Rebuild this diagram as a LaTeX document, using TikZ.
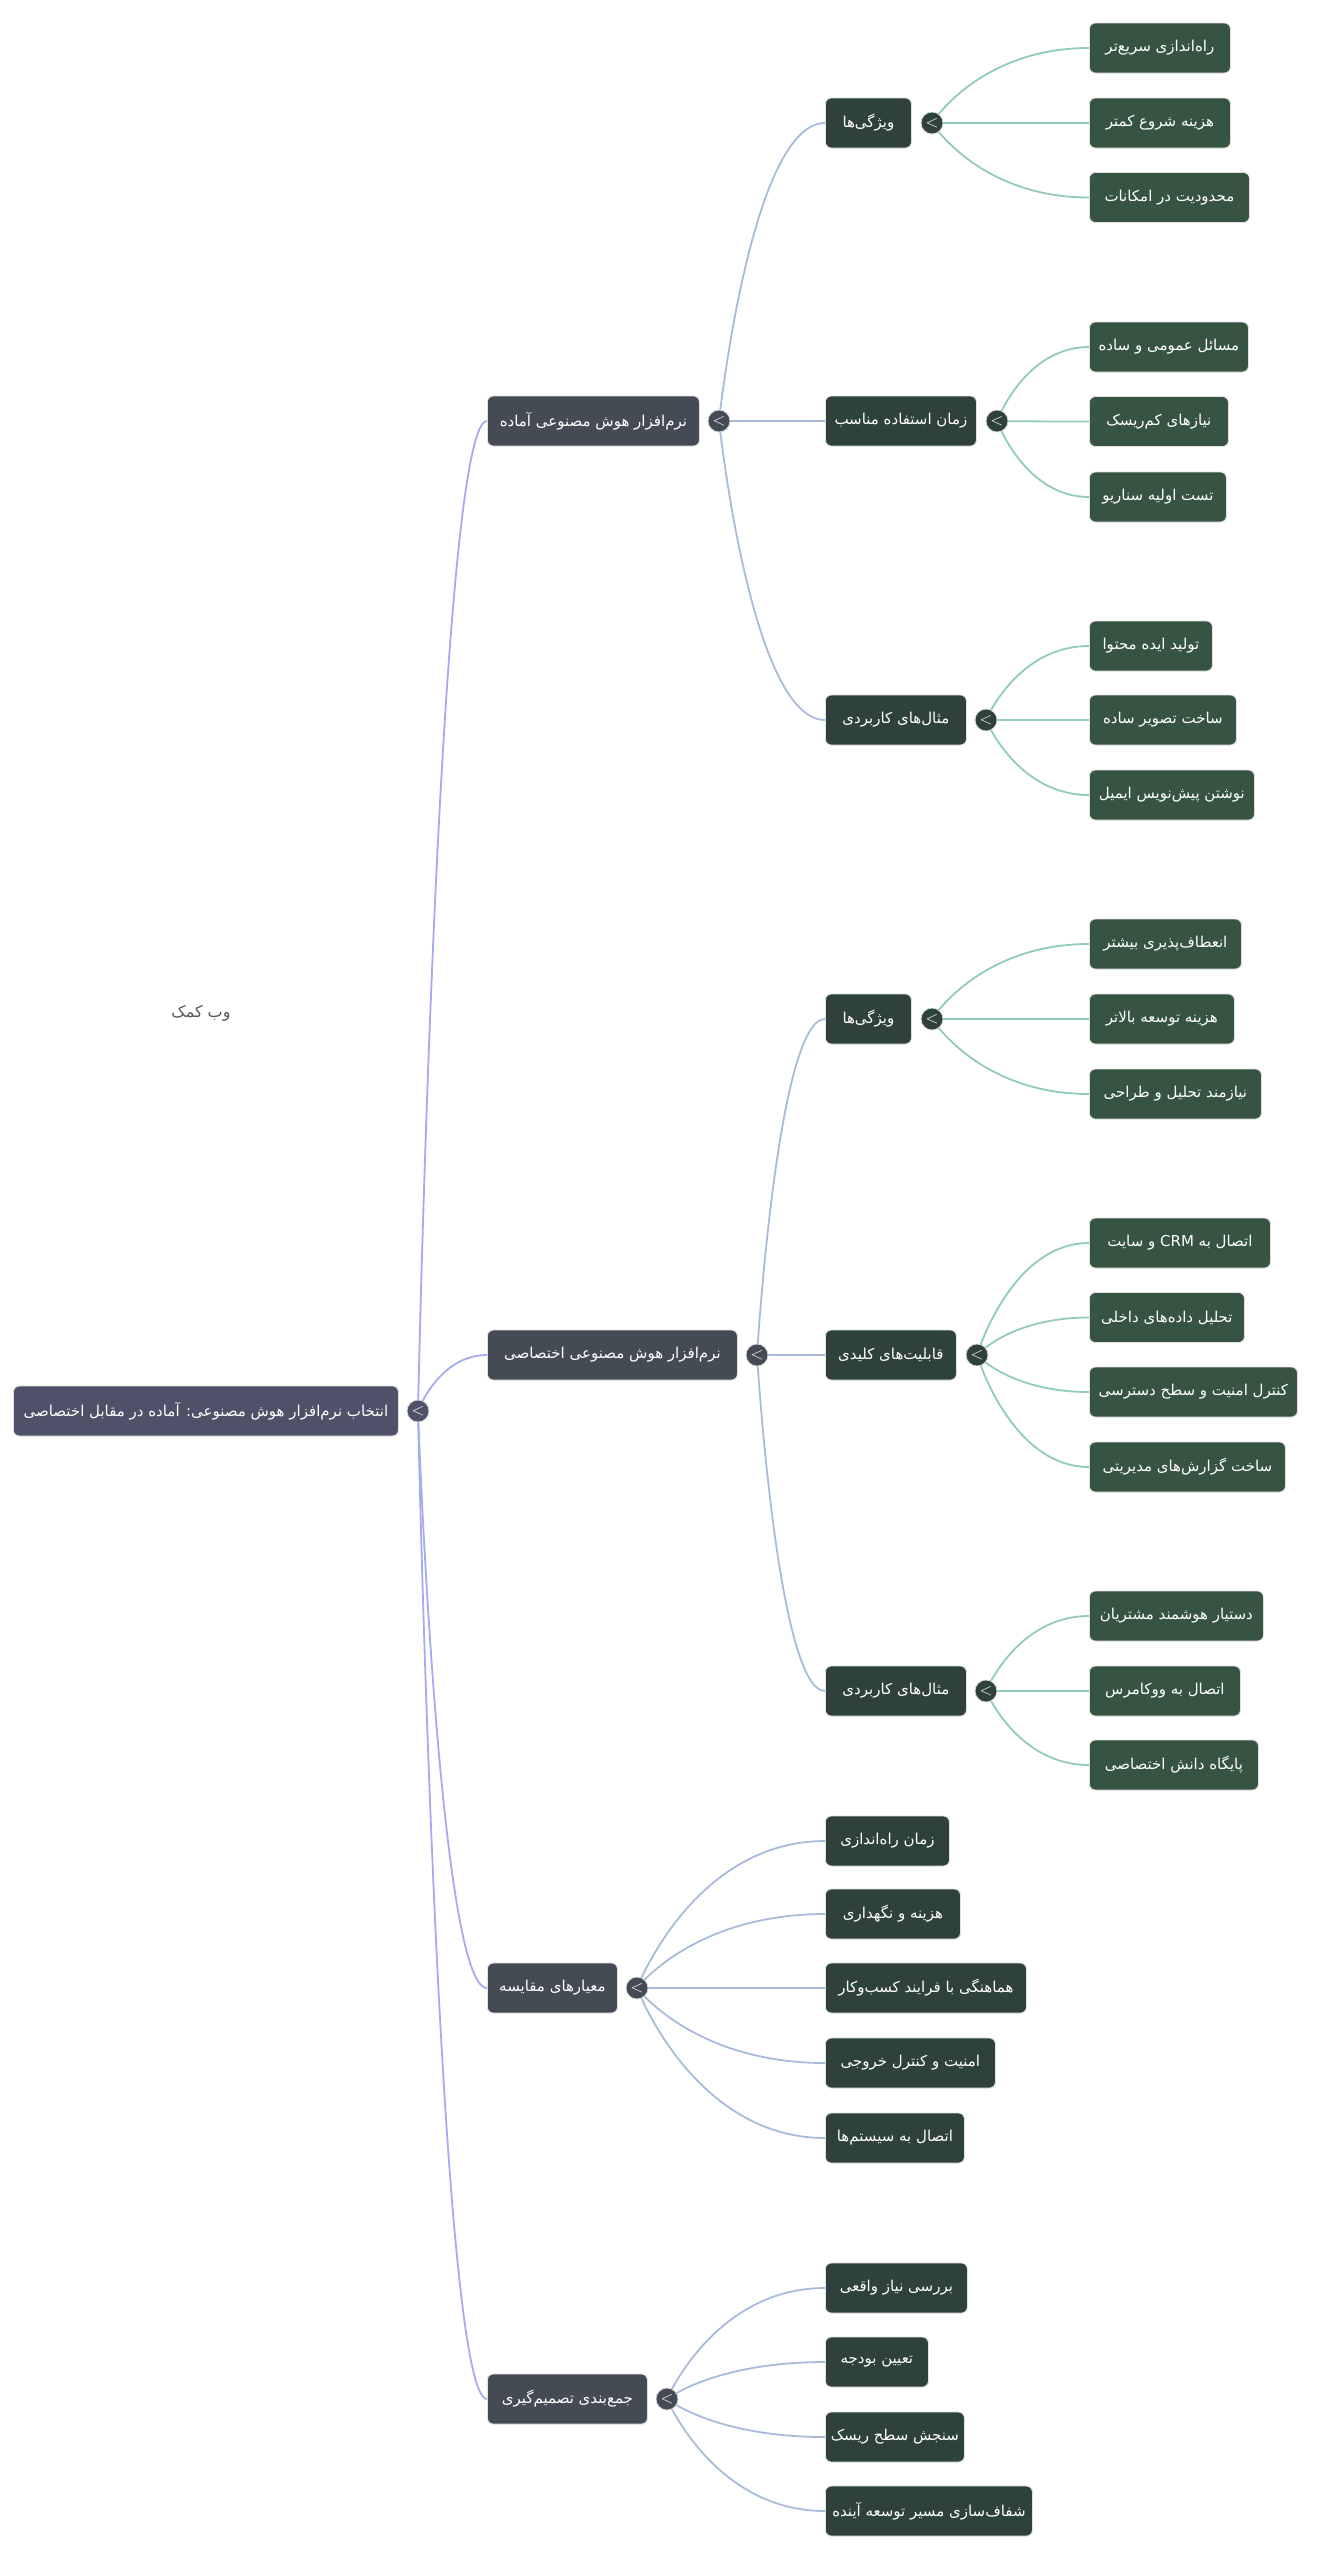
\documentclass[tikz,border=0pt]{standalone}
\usepackage{fontspec}
\usetikzlibrary{calc,backgrounds}
\TeXXeTstate=1
\newfontfamily\persianfont[Script=Arabic]{DejaVu Sans}
\newcommand\fatxt[1]{{\persianfont\beginR #1\endR}}
\definecolor{rootc}{HTML}{4F5168}
\definecolor{onec}{HTML}{444B55}
\definecolor{twoc}{HTML}{2F413C}
\definecolor{threec}{HTML}{365441}
\definecolor{rootln}{HTML}{A5AAF2}
\definecolor{oneln}{HTML}{A8BCDA}
\definecolor{twoln}{HTML}{92CCB8}
\begin{document}
\begin{tikzpicture}[x=1pt,y=-1pt,
  box/.style={rectangle, rounded corners=6pt, minimum height=50pt, text=white,
    font=\fontsize{15}{18}\selectfont, inner sep=0pt, anchor=west, draw=black!12, line width=0.8pt},
  rootbox/.style={box, fill=rootc},
  onebox/.style={box, fill=onec},
  twobox/.style={box, fill=twoc},
  threebox/.style={box, fill=threec},
  knob/.style={circle, minimum size=22pt, inner sep=0pt, draw=white!85!black, line width=0.8pt, text=white,
    font=\fontsize{17}{17}\selectfont\sffamily},
  lnk/.style={line width=1.8pt, to path={let \p1=(\tikztostart), \p2=(\tikztotarget) in
    .. controls (\p1) and ({\x1+0.3*(\x2-\x1)},\y2) .. (\p2)}},
]
\useasboundingbox (0,0) rectangle (1341,2560);

% root
\node[rootbox, minimum width=385pt] (root) at (13,1411) {\fatxt{انتخاب نرم‌افزار هوش مصنوعی: آماده در مقابل اختصاصی}};
\node[knob, fill=rootc] (k0) at (418,1411) {<};

% level 1
\node[onebox, minimum width=212pt] (n1) at (487,421) {\fatxt{نرم‌افزار هوش مصنوعی آماده}};
\node[onebox, minimum width=250pt] (n2) at (487,1355) {\fatxt{نرم‌افزار هوش مصنوعی اختصاصی}};
\node[onebox, minimum width=130pt] (n3) at (487,1988) {\fatxt{معیارهای مقایسه}};
\node[onebox, minimum width=160pt] (n4) at (487,2399) {\fatxt{جمع‌بندی تصمیم‌گیری}};
\node[knob, fill=onec] (k1) at (719,421) {<};
\node[knob, fill=onec] (k2) at (757,1355) {<};
\node[knob, fill=onec] (k3) at (637,1988) {<};
\node[knob, fill=onec] (k4) at (667,2399) {<};

% level 2
\node[twobox, minimum width=86pt] (a1) at (825,123) {\fatxt{ویژگی‌ها}};
\node[twobox, minimum width=151pt] (a2) at (825,421) {\fatxt{زمان استفاده مناسب}};
\node[twobox, minimum width=141pt] (a3) at (825,720) {\fatxt{مثال‌های کاربردی}};
\node[knob, fill=twoc] (ka1) at (932,123) {<};
\node[knob, fill=twoc] (ka2) at (997,421) {<};
\node[knob, fill=twoc] (ka3) at (986,720) {<};

\node[twobox, minimum width=86pt] (b1) at (825,1019) {\fatxt{ویژگی‌ها}};
\node[twobox, minimum width=131pt] (b2) at (825,1355) {\fatxt{قابلیت‌های کلیدی}};
\node[twobox, minimum width=141pt] (b3) at (825,1691) {\fatxt{مثال‌های کاربردی}};
\node[knob, fill=twoc] (kb1) at (932,1019) {<};
\node[knob, fill=twoc] (kb2) at (977,1355) {<};
\node[knob, fill=twoc] (kb3) at (986,1691) {<};

\node[twobox, minimum width=124pt] (c1) at (825,1841) {\fatxt{زمان راه‌اندازی}};
\node[twobox, minimum width=135pt] (c2) at (825,1914) {\fatxt{هزینه و نگهداری}};
\node[twobox, minimum width=201pt] (c3) at (825,1988) {\fatxt{هماهنگی با فرایند کسب‌وکار}};
\node[twobox, minimum width=170pt] (c4) at (825,2063) {\fatxt{امنیت و کنترل خروجی}};
\node[twobox, minimum width=139pt] (c5) at (825,2138) {\fatxt{اتصال به سیستم‌ها}};

\node[twobox, minimum width=142pt] (d1) at (825,2288) {\fatxt{بررسی نیاز واقعی}};
\node[twobox, minimum width=103pt] (d2) at (825,2362) {\fatxt{تعیین بودجه}};
\node[twobox, minimum width=139pt] (d3) at (825,2437) {\fatxt{سنجش سطح ریسک}};
\node[twobox, minimum width=207pt] (d4) at (825,2511) {\fatxt{شفاف‌سازی مسیر توسعه آینده}};

% level 3
\node[threebox, minimum width=141pt] (a11) at (1089,48) {\fatxt{راه‌اندازی سریع‌تر}};
\node[threebox, minimum width=141pt] (a12) at (1089,123) {\fatxt{هزینه شروع کمتر}};
\node[threebox, minimum width=160pt] (a13) at (1089,197.5) {\fatxt{محدودیت در امکانات}};
\node[threebox, minimum width=159pt] (a21) at (1089,347) {\fatxt{مسائل عمومی و ساده}};
\node[threebox, minimum width=139pt] (a22) at (1089,421.5) {\fatxt{نیازهای کم‌ریسک}};
\node[threebox, minimum width=137pt] (a23) at (1089,497) {\fatxt{تست اولیه سناریو}};
\node[threebox, minimum width=123pt] (a31) at (1089,646) {\fatxt{تولید ایده محتوا}};
\node[threebox, minimum width=147pt] (a32) at (1089,720) {\fatxt{ساخت تصویر ساده}};
\node[threebox, minimum width=165pt] (a33) at (1089,795) {\fatxt{نوشتن پیش‌نویس ایمیل}};

\node[threebox, minimum width=152pt] (b11) at (1089,944) {\fatxt{انعطاف‌پذیری بیشتر}};
\node[threebox, minimum width=145pt] (b12) at (1089,1019) {\fatxt{هزینه توسعه بالاتر}};
\node[threebox, minimum width=172pt] (b13) at (1089,1094) {\fatxt{نیازمند تحلیل و طراحی}};
\node[threebox, minimum width=181pt] (b21) at (1089,1243) {\fatxt{اتصال به \beginL CRM\endL{} و سایت}};
\node[threebox, minimum width=155pt] (b22) at (1089,1317.5) {\fatxt{تحلیل داده‌های داخلی}};
\node[threebox, minimum width=208pt] (b23) at (1089,1392) {\fatxt{کنترل امنیت و سطح دسترسی}};
\node[threebox, minimum width=196pt] (b24) at (1089,1467) {\fatxt{ساخت گزارش‌های مدیریتی}};
\node[threebox, minimum width=174pt] (b31) at (1089,1616) {\fatxt{دستیار هوشمند مشتریان}};
\node[threebox, minimum width=151pt] (b32) at (1089,1691) {\fatxt{اتصال به ووکامرس}};
\node[threebox, minimum width=169pt] (b33) at (1089,1765) {\fatxt{پایگاه دانش اختصاصی}};

% floating label
\node[text=black!65, font=\fontsize{16}{19}\selectfont] (help) at (201,1013) {\fatxt{وب کمک}};

\begin{scope}[on background layer]
  \fill[white] (0,0) rectangle (1341,2560);
  \foreach \t in {n1,n2,n3,n4} \draw[rootln, lnk] (k0.center) to (\t.west);
  \foreach \t in {a1,a2,a3} \draw[oneln, lnk] (k1.center) to (\t.west);
  \foreach \t in {b1,b2,b3} \draw[oneln, lnk] (k2.center) to (\t.west);
  \foreach \t in {c1,c2,c3,c4,c5} \draw[oneln, lnk] (k3.center) to (\t.west);
  \foreach \t in {d1,d2,d3,d4} \draw[oneln, lnk] (k4.center) to (\t.west);
  \foreach \t in {a11,a12,a13} \draw[twoln, lnk] (ka1.center) to (\t.west);
  \foreach \t in {a21,a22,a23} \draw[twoln, lnk] (ka2.center) to (\t.west);
  \foreach \t in {a31,a32,a33} \draw[twoln, lnk] (ka3.center) to (\t.west);
  \foreach \t in {b11,b12,b13} \draw[twoln, lnk] (kb1.center) to (\t.west);
  \foreach \t in {b21,b22,b23,b24} \draw[twoln, lnk] (kb2.center) to (\t.west);
  \foreach \t in {b31,b32,b33} \draw[twoln, lnk] (kb3.center) to (\t.west);
\end{scope}
\end{tikzpicture}
\end{document}
